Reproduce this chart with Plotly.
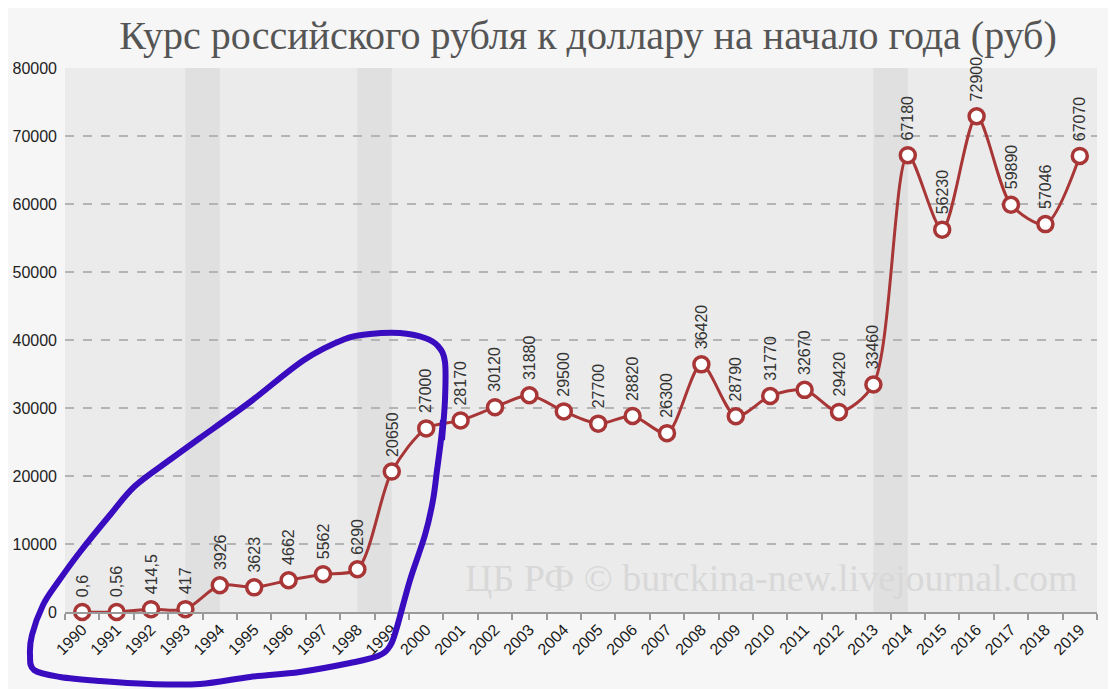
import plotly.graph_objects as go

years = [str(y) for y in range(1990, 2020)]
rates = [0.6, 0.56, 414.5, 417, 3926, 3623, 4662, 5562, 6290, 20650,
         27000, 28170, 30120, 31880, 29500, 27700, 28820, 26300, 36420, 28790,
         31770, 32670, 29420, 33460, 67180, 56230, 72900, 59890, 57046, 67070]
labels = [f"{v:g}".replace(".", ",") for v in rates]
crisis_start = ["1993", "1998", "2013"]
y_ticks = list(range(0, 80001, 10000))

title = "Курс российского рубля к доллару на начало года (руб)"
watermark = "ЦБ РФ © burckina-new.livejournal.com"

# page geometry (the page body adds an 8px offset)
OFF = 8
W, H = 1116 - OFF, 689 - OFF
PL, PT, PR, PB = 65, 68, 1097, 612          # plot area in page pixels
pw, ph = PR - PL, PB - PT
margin = dict(l=PL - OFF, t=PT - OFF, r=W - (PR - OFF), b=H - (PB - OFF), autoexpand=False)

RED = "#a83636"

fig = go.Figure()
fig.add_trace(go.Scatter(
    x=years, y=rates, mode="lines+markers",
    line=dict(color=RED, width=3, shape="spline", smoothing=0.8),
    marker=dict(size=15, color="white", line=dict(color=RED, width=3.5)),
    hoverinfo="x+y", showlegend=False, cliponaxis=False,
))

# crisis bands
for s in crisis_start:
    i = years.index(s)
    fig.add_shape(type="rect", xref="x", yref="paper", x0=i, x1=i + 1, y0=0, y1=1,
                  fillcolor="#e0e0e0", line=dict(width=0), layer="below")

# rotated data labels (x given as category index)
for i, (y, t) in enumerate(zip(rates, labels)):
    fig.add_annotation(x=i, y=y, text=t, textangle=-90, showarrow=False,
                       yanchor="bottom", yshift=13,
                       font=dict(family="Liberation Sans, Arial", size=16, color="#333333"))


def to_paper(p):
    return ((p[0] - PL) / pw, (PB - p[1]) / ph)


# watermark
wx, wy = to_paper((1080, 578))
fig.add_annotation(xref="paper", yref="paper", x=wx, y=wy,
                   xanchor="right", yanchor="middle", showarrow=False, text=watermark,
                   font=dict(family="Liberation Serif, serif", size=38, color="#d8d8d8"))

# hand-drawn blue loop (page pixel coordinates of the drawing, smoothed)
loop_px = [(442, 440), (445, 400), (445, 362), (438, 346), (425, 338), (400, 333),
           (370, 334), (345, 339), (304, 360), (250, 402), (200, 438), (171, 459),
           (135, 486), (110, 515), (80, 552), (58, 582), (43, 605), (32, 635),
           (30, 655), (34, 670), (60, 677), (100, 681), (150, 684), (200, 684),
           (250, 677), (300, 672), (350, 663), (378, 656), (390, 646), (397, 627),
           (410, 580), (425, 535), (433, 500), (437, 470), (441, 440), (443, 420)]

pts = [to_paper(p) for p in loop_px]
path = f"M {pts[0][0]:.4f},{pts[0][1]:.4f}"
for k in range(len(pts) - 1):
    p0 = pts[k - 1] if k > 0 else pts[k]
    p1, p2 = pts[k], pts[k + 1]
    p3 = pts[k + 2] if k + 2 < len(pts) else pts[k + 1]
    c1 = (p1[0] + (p2[0] - p0[0]) / 6, p1[1] + (p2[1] - p0[1]) / 6)
    c2 = (p2[0] - (p3[0] - p1[0]) / 6, p2[1] - (p3[1] - p1[1]) / 6)
    path += (f" C {c1[0]:.4f},{c1[1]:.4f} {c2[0]:.4f},{c2[1]:.4f} "
             f"{p2[0]:.4f},{p2[1]:.4f}")
fig.add_shape(type="path", xref="paper", yref="paper", path=path,
              line=dict(color="#3a0cc0", width=6), layer="above")

fig.update_layout(
    width=W, height=H,
    margin=margin,
    paper_bgcolor="#f6f6f6", plot_bgcolor="#ebebeb",
    title=dict(text=title, x=(588 - OFF) / W, xref="container", xanchor="center",
               y=(H - (35 - OFF)) / H, yref="container", yanchor="middle",
               font=dict(family="Liberation Serif, serif", size=40, color="#555555")),
    xaxis=dict(type="category", range=[-0.5, len(years) - 0.5], autorange=False,
               automargin=False,
               tickson="boundaries", ticks="outside", ticklen=6,
               tickcolor="#9a9a9a", tickwidth=2, showline=True, linecolor="#9a9a9a",
               linewidth=2, showgrid=False, tickangle=-45,
               tickfont=dict(family="Liberation Sans, Arial", size=16, color="#1a1a1a")),
    yaxis=dict(range=[0, 80000], autorange=False, automargin=False,
               tickvals=y_ticks, ticktext=[str(v) for v in y_ticks],
               showgrid=True, gridcolor="#b4b4b4", gridwidth=1.5, griddash="dash",
               zeroline=False, showline=False, ticks="", ticklabelstandoff=7,
               tickfont=dict(family="Liberation Sans, Arial", size=16, color="#222222")),
)

fig.write_html("out.html")
